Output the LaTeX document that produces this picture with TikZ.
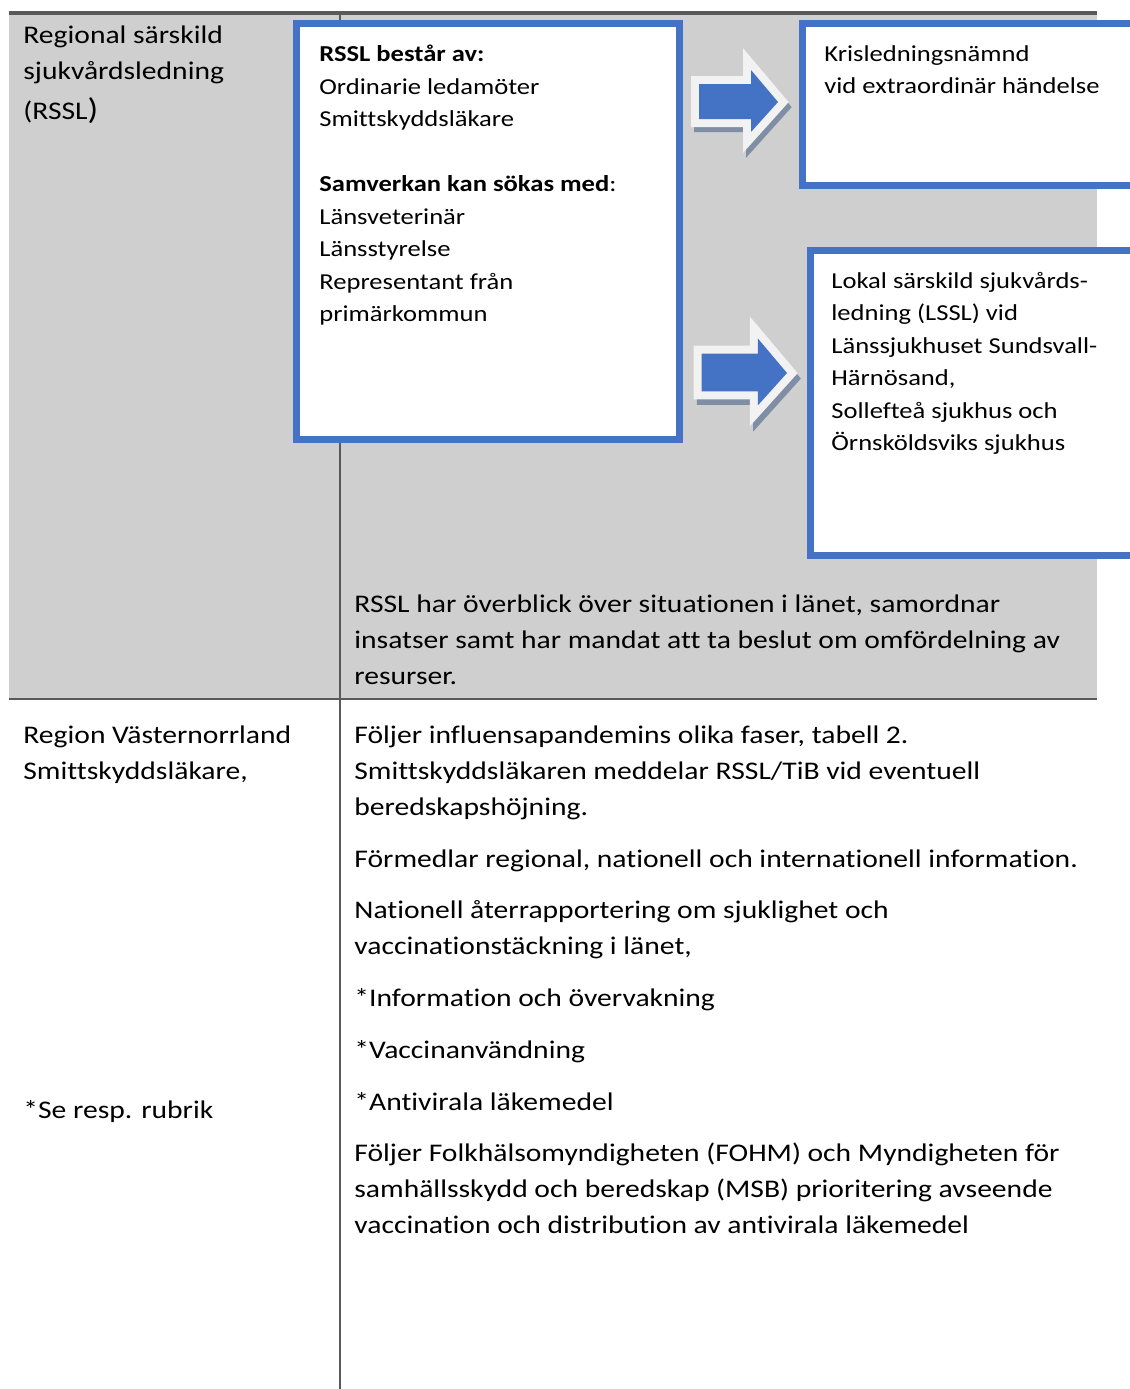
\documentclass[tikz,border=0pt]{standalone}
\usepackage{fontspec}
\setmainfont{Carlito}[FakeStretch=1.165, Ligatures=CommonOff]
\usetikzlibrary{positioning}
\definecolor{boxblue}{HTML}{4472C4}
\definecolor{cellgray}{HTML}{CFCFCF}
\definecolor{rulegray}{HTML}{595959}
\definecolor{arrowrim}{HTML}{F2F2F2}
\definecolor{arrowshade}{HTML}{7F8DA5}
\tikzset{
    txt/.style = {anchor=base west, align=left, inner sep=0pt,
        font=\fontsize{12.7pt}{18pt}\selectfont},
    boxtxt/.style = {txt, font=\fontsize{11.4pt}{16.25pt}\selectfont},
    box/.style = {draw=boxblue, fill=white, line width=3.5pt},
    rule/.style = {draw=rulegray, line width=0.7pt},
    arrowrimstyle/.style = {draw=arrowrim, fill=arrowrim, line width=8pt, miter limit=20},
    arrowshadestyle/.style = {draw=arrowshade, fill=arrowshade, line width=8pt, miter limit=20},
    arrowbody/.style = {fill=boxblue}
}
% block arrow, drawn from its tip
\def\blockarrow{%
    -- ++(-27,-32) -- ++(0,14) -- ++(-52,0) -- ++(0,35) -- ++(52,0) -- ++(0,13) -- cycle
}
\begin{document}
\begin{tikzpicture}[x=0.5pt, y=-0.5pt]
    \useasboundingbox (0,0) rectangle (1130,1389);
    \clip (0,0) rectangle (1130,1389);
    % table frame
    \fill[cellgray] (9,13) rectangle (1097,699);
    \draw[rulegray, line width=2pt] (9,13) -- (1097,13);
    \draw[rule] (9,699) -- (1097,699);
    \draw[rule] (340,13) -- (340,1389);
    % boxes
    \draw[box] (296.5,23.5) rectangle (679.5,439.5);
    \draw[box] (802.5,23.5) rectangle (1160,185);
    \draw[box] (810,250) rectangle (1160,555.5);
    \foreach \tx/\ty/\s in {778/102/1, 787/373/1.08}{
        \begin{scope}[shift={(\tx,\ty)}, scale=\s]
            \draw[arrowshadestyle] (3,5) \blockarrow;
            \draw[arrowrimstyle] (0,0) \blockarrow;
            \fill[arrowbody] (0,0) \blockarrow;
        \end{scope}
    }
    % upper row (nodes sit on the baseline of their last line)
    \node[txt] (rssl) at (23,119) {Regional särskild\\sjukvårdsledning\\[2pt](RSSL{\fontsize{15pt}{18pt}\selectfont)}};
    \node[boxtxt] (members) at (319,321.5) {\textbf{RSSL består av:}\\Ordinarie ledamöter\\Smittskyddsläkare\\[16.25pt]
        \textbf{Samverkan kan sökas med}:\\Länsveterinär\\Länsstyrelse\\Representant från\\primärkommun};
    \node[boxtxt] (kris) at (824,93.5) {Krisledningsnämnd\\vid extraordinär händelse};
    \node[boxtxt] (lssl) at (831,450.5) {Lokal särskild sjukvårds-\\ledning (LSSL) vid\\Länssjukhuset Sundsvall-\\Härnösand,\\Sollefteå sjukhus och\\Örnsköldsviks sjukhus};
    \node[txt] (overblick) at (354,684) {RSSL har överblick över situationen i länet, samordnar\\insatser samt har mandat att ta beslut om omfördelning av\\resurser.};
    % lower row
    \node[txt] (region) at (23,779) {Region Västernorrland\\Smittskyddsläkare,};
    \node[txt] (seresp) at (23,1118) {*Se resp. rubrik};
    \node[txt] (faser) at (354,815) {Följer influensapandemins olika faser, tabell 2.\\Smittskyddsläkaren meddelar RSSL/TiB vid eventuell\\beredskapshöjning.};
    \node[txt] (formedlar) at (354,867) {Förmedlar regional, nationell och internationell information.};
    \node[txt] (nationell) at (354,954) {Nationell återrapportering om sjuklighet och\\vaccinationstäckning i länet,};
    \node[txt] (info) at (354,1006) {*Information och övervakning};
    \node[txt] (vaccin) at (354,1058) {*Vaccinanvändning};
    \node[txt] (antiviral) at (354,1110) {*Antivirala läkemedel};
    \node[txt] (fohm) at (354,1233) {Följer Folkhälsomyndigheten (FOHM) och Myndigheten för\\samhällsskydd och beredskap (MSB) prioritering avseende\\vaccination och distribution av antivirala läkemedel};
\end{tikzpicture}
\end{document}
